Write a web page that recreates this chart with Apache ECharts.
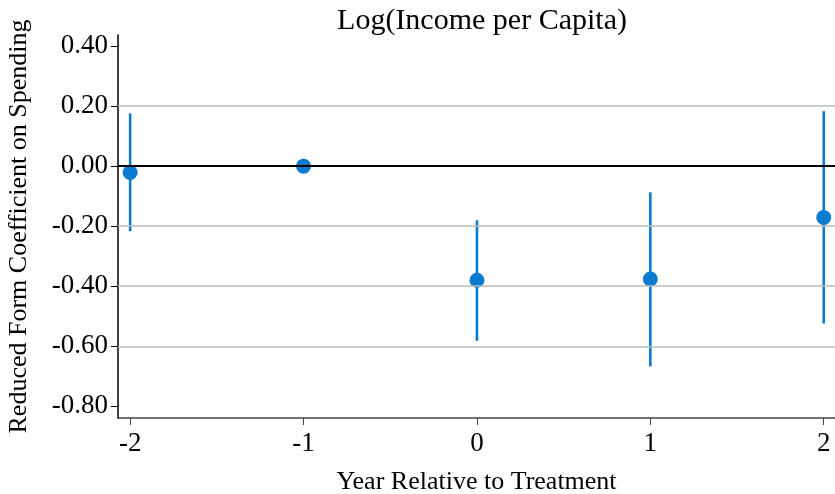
<!DOCTYPE html>
<html>
<head>
<meta charset="utf-8">
<script src="https://cdn.jsdelivr.net/npm/echarts@6/dist/echarts.min.js"></script>
<style>
html, body { margin: 0; padding: 0; background: #fff; }
#chart { width: 835px; height: 494px; }
</style>
</head>
<body>
<div id="chart"></div>
<script>
// event-study estimates
var years = [-2, -1, 0, 1, 2]
var coef = [-0.021, 0.0, -0.380, -0.376, -0.171]
var ciLow = [-0.217, null, -0.582, -0.667, -0.524]
var ciHigh = [0.176, null, -0.180, -0.087, 0.183]
var yTicks = [-0.8, -0.6, -0.4, -0.2, 0.0, 0.2, 0.4]
var gridLines = [0.2, -0.2, -0.4, -0.6]

var font = "'Liberation Serif', 'DejaVu Serif', serif"
var blue = '#0b7bd0'

var bars = []
years.forEach(function (y, i) {
	if (ciLow[i] !== null) bars.push([y, ciLow[i], ciHigh[i]])
})

var option = {
	animation: false,
	backgroundColor: '#fff',
	title: {
		text: 'Log(Income per Capita)',
		left: 477,
		textAlign: 'center',
		top: 1,
		textStyle: { fontFamily: font, fontSize: 30, fontWeight: 'normal', color: '#000' }
	},
	grid: { left: 118, right: 0, top: 35, bottom: 76, containLabel: false, outerBoundsMode: 'none' },
	xAxis: {
		type: 'value',
		min: -2.07,
		max: 2.065,
		name: 'Year Relative to Treatment',
		nameLocation: 'middle',
		nameGap: 51,
		nameTextStyle: { fontFamily: font, fontSize: 26, color: '#000' },
		axisLine: { onZero: false, lineStyle: { color: '#444', width: 1.5 } },
		axisTick: { show: true, length: 7, customValues: years, lineStyle: { color: '#444' } },
		axisLabel: { customValues: years, fontFamily: font, fontSize: 27, color: '#000', margin: 12 },
		splitLine: { show: false }
	},
	yAxis: {
		type: 'value',
		min: -0.839,
		max: 0.437,
		name: 'Reduced Form Coefficient on Spending',
		nameLocation: 'middle',
		nameGap: 86,
		nameTextStyle: { fontFamily: font, fontSize: 26, color: '#000' },
		axisLine: { show: true, onZero: false, lineStyle: { color: '#000', width: 1.5 } },
		axisTick: { show: true, length: 7, customValues: yTicks, lineStyle: { color: '#000' } },
		axisLabel: {
			customValues: yTicks,
			fontFamily: font, fontSize: 27, color: '#000', margin: 10,
			formatter: function (v) { return v.toFixed(2) }
		},
		splitLine: { show: false }
	},
	series: [
		{
			type: 'line',
			data: [],
			silent: true,
			markLine: {
				symbol: 'none',
				silent: true,
				label: { show: false },
				data: gridLines.map(function (v) {
					return { yAxis: v, lineStyle: { color: '#bbb', width: 1.5, type: 'solid' } }
				}).concat([{ yAxis: 0, lineStyle: { color: '#000', width: 2.2, type: 'solid' } }])
			}
		},
		{
			type: 'custom',
			data: bars,
			z: 3,
			renderItem: function (params, api) {
				var top = api.coord([api.value(0), api.value(2)])
				var bot = api.coord([api.value(0), api.value(1)])
				return {
					type: 'line',
					shape: { x1: top[0], y1: top[1], x2: bot[0], y2: bot[1] },
					style: { stroke: blue, lineWidth: 2.6 }
				}
			}
		},
		{
			type: 'scatter',
			z: 4,
			symbol: 'circle',
			symbolSize: 15,
			itemStyle: { color: blue, opacity: 1 },
			data: years.map(function (y, i) { return [y, coef[i]] })
		}
	]
}

var myChart = echarts.init(document.getElementById('chart'))
myChart.setOption(option)
</script>
</body>
</html>
